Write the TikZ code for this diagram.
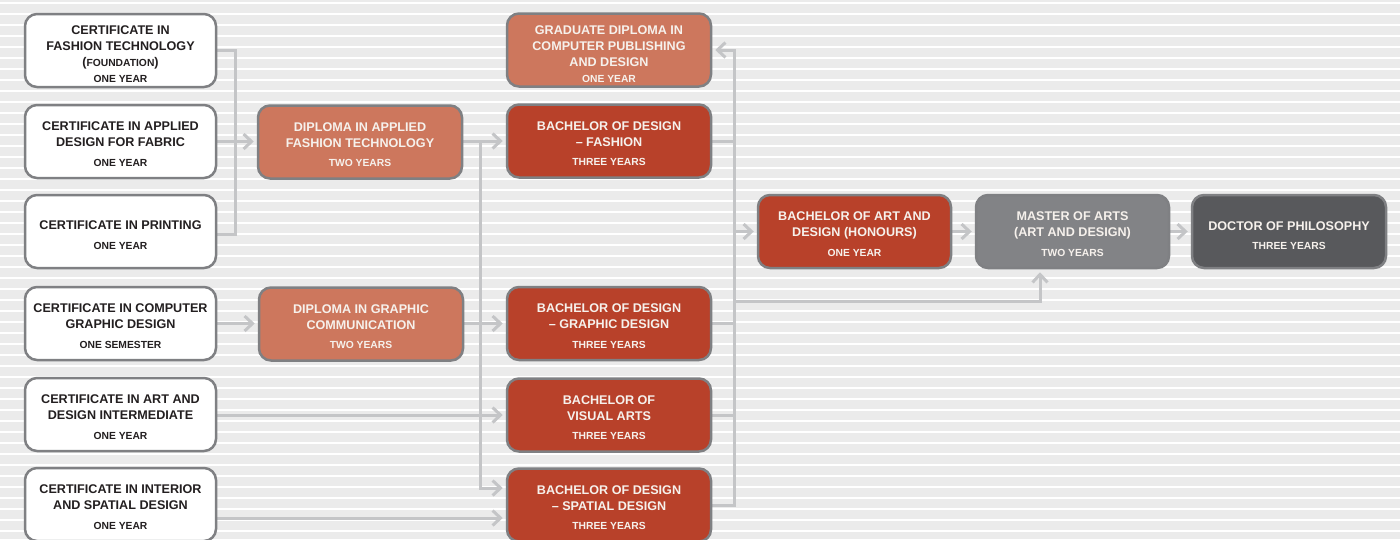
\documentclass[tikz,border=0pt]{standalone}
\usepackage{fontspec}
\setmainfont{Liberation Sans}
\usetikzlibrary{arrows.meta,calc}
\definecolor{bgg}{HTML}{EBEBEB}
\definecolor{bord}{HTML}{7F8083}
\definecolor{linec}{HTML}{C4C5C7}
\definecolor{txtd}{HTML}{231F20}
\definecolor{dipc}{HTML}{CD775D}
\definecolor{bachc}{HTML}{B8412A}
\definecolor{mastc}{HTML}{828386}
\definecolor{docc}{HTML}{58595C}
\definecolor{txtw}{HTML}{F6F1EC}
\newcommand\mf{\fontsize{12.6}{16}\selectfont\bfseries}
\newcommand\smf{\fontsize{10.3}{16}\selectfont\bfseries}
\newcommand\tp[1][14pt]{\rule{0pt}{#1}}
\pgfdeclarelayer{bglayer}
\pgfsetlayers{bglayer,main}
\tikzset{
  box/.style={draw=bord, line width=2.5pt, rounded corners=12pt, minimum height=73pt,
    inner sep=0pt, align=center, font=\mf},
  cert/.style={box, fill=white, text=txtd, minimum width=191pt},
  dip/.style={box, fill=dipc, text=txtw, minimum width=204pt},
  bach/.style={box, fill=bachc, text=txtw, minimum width=204pt},
  bhon/.style={box, fill=bachc, text=txtw, minimum width=193pt},
  mast/.style={box, fill=mastc, text=txtw, minimum width=193pt},
  doct/.style={box, fill=docc, text=txtw, minimum width=194pt},
  conn/.style={draw=linec, line width=3pt},
  arr/.style={conn, -{Straight Barb[length=8pt,width=15pt]}, shorten >=3pt},
}
\begin{document}
\begin{tikzpicture}[x=1pt,y=-1pt]
\useasboundingbox (0,0) rectangle (1400,539);

% nodes
\node[cert] (c1) at (120.5,50.5) {\tp[17pt]CERTIFICATE IN\\FASHION TECHNOLOGY\\({\smf FOUNDATION})\\{\smf ONE YEAR}};
\node[cert] (c2) at (120.5,141.5) {\tp CERTIFICATE IN APPLIED\\DESIGN FOR FABRIC\\[3.2pt]{\smf ONE YEAR}};
\node[cert] (c3) at (120.5,231.5) {\tp[17pt]CERTIFICATE IN PRINTING\\[4pt]{\smf ONE YEAR}};
\node[cert] (c4) at (120.5,323.5) {\tp CERTIFICATE IN COMPUTER\\GRAPHIC DESIGN\\[3.2pt]{\smf ONE SEMESTER}};
\node[cert] (c5) at (120.5,414.5) {\tp CERTIFICATE IN ART AND\\DESIGN INTERMEDIATE\\[3.2pt]{\smf ONE YEAR}};
\node[cert] (c6) at (120.5,504.5) {\tp CERTIFICATE IN INTERIOR\\AND SPATIAL DESIGN\\[3.2pt]{\smf ONE YEAR}};

\node[dip] (d1) at (360,142) {\tp DIPLOMA IN APPLIED\\FASHION TECHNOLOGY\\[3.2pt]{\smf TWO YEARS}};
\node[dip] (d2) at (361,324) {\tp DIPLOMA IN GRAPHIC\\COMMUNICATION\\[3.2pt]{\smf TWO YEARS}};

\node[dip] (gd) at (609,50) {\tp[17pt]GRADUATE DIPLOMA IN\\COMPUTER PUBLISHING\\AND DESIGN\\{\smf ONE YEAR}};
\node[bach] (bf) at (609,141) {\tp BACHELOR OF DESIGN\\– FASHION\\[3.2pt]{\smf THREE YEARS}};
\node[bach] (bg) at (609,323.5) {\tp BACHELOR OF DESIGN\\– GRAPHIC DESIGN\\[3.2pt]{\smf THREE YEARS}};
\node[bach] (bv) at (609,415) {\tp BACHELOR OF\\VISUAL ARTS\\[3.2pt]{\smf THREE YEARS}};
\node[bach] (bs) at (609,505) {\tp BACHELOR OF DESIGN\\– SPATIAL DESIGN\\[3.2pt]{\smf THREE YEARS}};

\node[bhon] (bh) at (854.5,231.5) {\tp BACHELOR OF ART AND\\DESIGN (HONOURS)\\[3.2pt]{\smf ONE YEAR}};
\node[mast] (ma) at (1072.5,231.5) {\tp MASTER OF ARTS\\(ART AND DESIGN)\\[3.2pt]{\smf TWO YEARS}};
\node[doct] (phd) at (1289,231.5) {\tp[17pt]DOCTOR OF PHILOSOPHY\\[3.2pt]{\smf THREE YEARS}};

% junction coordinates
\coordinate (t1) at (235,234);
\coordinate (t2) at (480,488);
\coordinate (t3) at (480,518);
\coordinate (tt) at (734,50);
\coordinate (m1) at (1040,301);

\begin{pgfonlayer}{bglayer}
  % background stripes
  \fill[bgg] (0,0) rectangle (1400,539);
  \foreach \k in {0,...,48}
    \draw[white, line width=1.8pt] (0,{2.6+11*\k}) -- (1400,{2.6+11*\k});
  % certificates -> diplomas
  \draw[conn] (c1.east) -| (t1) -- (c3.east |- t1);
  \draw[arr] (c2.east) -- (c2.east -| d1.west);
  \draw[arr] (c4.east) -- (c4.east -| d2.west);
  % diplomas -> bachelors
  \draw[arr] (d1.east |- bf.east) -- (bf.west);
  \draw[arr] (d1.east |- bf.east) -| (t2) -- (t2 -| bs.west);
  \draw[arr] (d2.east |- bg.east) -- (bg.west);
  \draw[arr] (c5.east |- bv.east) -- (bv.west);
  \draw[arr] (c6.east |- t3) -- (t3 -| bs.west);
  % bachelors -> trunk
  \draw[arr] (bs.east) -| (tt) -- (gd.east);
  \draw[conn] (bf.east) -- (bf.east -| tt);
  \draw[conn] (bg.east) -- (bg.east -| tt);
  \draw[conn] (bv.east) -- (bv.east -| tt);
  \draw[arr] (bh.west -| tt) -- (bh.west);
  \draw[arr] (m1 -| tt) -| (m1 |- ma.south);
  % postgraduate chain
  \draw[arr] (bh.east) -- (ma.west);
  \draw[arr] (ma.east) -- (phd.west);
\end{pgfonlayer}
\end{tikzpicture}
\end{document}
